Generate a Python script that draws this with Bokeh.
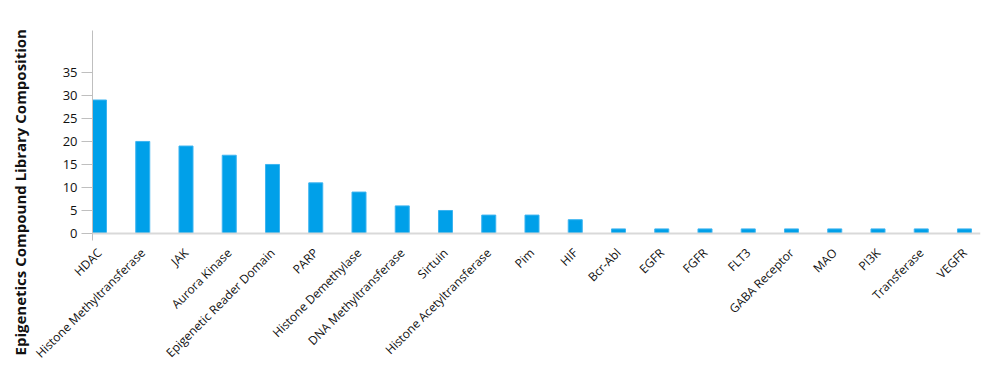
import math
from bokeh.plotting import figure
from bokeh.models import Range1d, FixedTicker, Span, ColumnDataSource, Title
from bokeh.embed import file_html
from bokeh.resources import INLINE

categories = ["HDAC", "Histone Methyltransferase", "JAK", "Aurora Kinase",
              "Epigenetic Reader Domain", "PARP", "Histone Demethylase",
              "DNA Methyltransferase", "Sirtuin", "Histone Acetyltransferase",
              "Pim", "HIF", "Bcr-Abl", "EGFR", "FGFR", "FLT3", "GABA Receptor",
              "MAO", "PI3K", "Transferase", "VEGFR"]
counts = [29, 20, 19, 17, 15, 11, 9, 6, 5, 4, 4, 3, 1, 1, 1, 1, 1, 1, 1, 1, 1]
y_ticks = [0, 5, 10, 15, 20, 25, 30, 35]

FONT = "Open Sans"
xs = list(range(len(categories)))
src = ColumnDataSource(dict(x=xs, top=counts))

p = figure(frame_width=888, frame_height=210, output_backend="svg", toolbar_location=None,
           x_range=Range1d(-0.162, 20.37), y_range=Range1d(-1.52, 44.1),
           min_border_left=0, min_border_right=3,
           min_border_top=30, min_border_bottom=5)
p.outline_line_color = None
p.xgrid.visible = False
p.ygrid.visible = False
p.background_fill_color = "white"
p.border_fill_color = "white"

p.vbar(x="x", top="top", bottom=0, width=0.324, source=src,
       fill_color="#00A0E9", line_color="#3DB4F0", line_width=1)

p.add_layout(Span(location=0, dimension="width", line_color="#d9d9d9", line_width=2))

xa = p.xaxis[0]
xa.ticker = FixedTicker(ticks=xs)
xa.major_label_overrides = {i: c for i, c in enumerate(categories)}
xa.major_label_orientation = math.pi / 4
xa.axis_line_color = None
xa.major_tick_line_color = None
xa.minor_tick_line_color = None
xa.major_tick_out = 0
xa.major_tick_in = 0
xa.major_label_standoff = 10
xa.major_label_text_font = FONT
xa.major_label_text_font_size = "12px"
xa.major_label_text_color = "#111111"

ya = p.yaxis[0]
ya.ticker = FixedTicker(ticks=y_ticks)
ya.axis_line_color = "#bfbfbf"
ya.axis_line_width = 1
ya.major_tick_line_color = "#bfbfbf"
ya.major_tick_out = 11
ya.major_tick_in = 0
ya.minor_tick_line_color = None
ya.major_label_standoff = 4
ya.major_label_text_font = FONT
ya.major_label_text_font_size = "13px"
ya.major_label_text_color = "#111111"
ya.axis_label = " "
ya.axis_label_standoff = 10
ya.axis_label_text_font_size = "9px"

t = Title(text="Epigenetics Compound Library Composition", align="left",
          text_font=FONT, text_font_style="bold", text_font_size="15px",
          text_color="#111111", offset=-115, standoff=14)
p.add_layout(t, "left")

open("out.html", "w").write(file_html(p, INLINE))
